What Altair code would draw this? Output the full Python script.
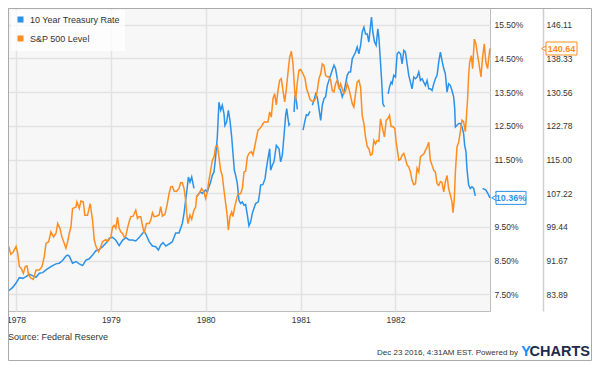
import altair as alt
import pandas as pd

FONT = "Liberation Sans"
BLUE = "#2b92ea"
ORANGE = "#ff8c1f"

series_names = ["10 Year Treasury Rate", "S&P 500 Level"]

# 10 Year Treasury Rate (%), decimal-year dates; None marks a gap in the line
rate_t = [
    1977.923, 1977.965, 1978.000, 1978.035, 1978.070, 1978.105, 1978.140, 1978.175, 1978.211, 1978.246,
    1978.281, 1978.316, 1978.351, 1978.386, 1978.421, 1978.456, 1978.491, 1978.526, 1978.544, 1978.561,
    1978.596, 1978.632, 1978.667, 1978.702, 1978.737, 1978.772, 1978.807, 1978.842, 1978.877, 1978.912,
    1978.947, 1978.982, 1979.018, 1979.053, 1979.088, 1979.123, 1979.158, 1979.193, 1979.228, 1979.263,
    1979.298, 1979.333, 1979.351, 1979.375, 1979.404, 1979.439, 1979.474, 1979.502, 1979.526, 1979.551,
    1979.579, 1979.614, 1979.649, 1979.684, 1979.719, 1979.754, 1979.772, 1979.789, 1979.807, 1979.818,
    1979.835, 1979.853, 1979.877, 1979.890,
    1979.902, 1979.930, 1979.947, 1979.965, 1979.982, 1980.000, 1980.018, 1980.035, 1980.053, 1980.070,
    1980.088, 1980.105, 1980.123, 1980.140, 1980.158, 1980.175, 1980.193, 1980.203, 1980.221, 1980.239,
    1980.256, 1980.274, 1980.288, 1980.302, 1980.316, 1980.333, 1980.351, 1980.368, 1980.386, 1980.404,
    1980.421, 1980.439, 1980.456, 1980.474, 1980.491, 1980.509, 1980.526, 1980.554, 1980.568, 1980.579,
    1980.603, 1980.625, 1980.639, 1980.656, 1980.674, 1980.684, 1980.702, 1980.719, 1980.744, 1980.772,
    1980.789, 1980.807, 1980.825, 1980.842, 1980.853, 1980.867, 1980.877, 1980.888, 1980.905,
    1980.930, 1980.940, 1980.954, 1980.965, 1980.990,
    1981.025, 1981.046, 1981.060, 1981.077, 1981.098, 1981.110,
    1981.123, 1981.140, 1981.158, 1981.175, 1981.193, 1981.211, 1981.228, 1981.246, 1981.263, 1981.281,
    1981.298, 1981.316, 1981.333, 1981.351, 1981.368, 1981.386, 1981.404, 1981.421, 1981.439, 1981.456,
    1981.474, 1981.491, 1981.509, 1981.526, 1981.544, 1981.561, 1981.579, 1981.596, 1981.614, 1981.632,
    1981.649, 1981.667, 1981.684, 1981.702, 1981.719, 1981.737, 1981.747, 1981.761, 1981.779, 1981.796,
    1981.814, 1981.825, 1981.842, 1981.853, 1981.867, 1981.884, 1981.900,
    1981.923, 1981.937, 1981.954, 1981.965, 1981.982, 1982.000, 1982.018, 1982.035, 1982.053, 1982.070,
    1982.088, 1982.105, 1982.123, 1982.140, 1982.158, 1982.175, 1982.193, 1982.211, 1982.228, 1982.246,
    1982.263, 1982.281, 1982.298, 1982.316, 1982.333, 1982.351, 1982.368, 1982.386, 1982.404, 1982.421,
    1982.439, 1982.456, 1982.474, 1982.491, 1982.509, 1982.526, 1982.544, 1982.561, 1982.579, 1982.596,
    1982.614, 1982.625, 1982.632, 1982.649, 1982.667, 1982.684, 1982.702, 1982.719, 1982.730, 1982.744,
    1982.754, 1982.772, 1982.789, 1982.807, 1982.825, 1982.842, 1982.880,
    1982.919, 1982.937, 1982.954, 1982.975, 1982.997,
]
rate_v = [
    7.60, 7.70, 7.83, 7.99, 7.97, 8.02, 8.09, 8.05, 8.00, 8.12,
    8.14, 8.22, 8.29, 8.35, 8.40, 8.42, 8.50, 8.63, 8.66, 8.63,
    8.42, 8.47, 8.40, 8.35, 8.51, 8.55, 8.66, 8.79, 8.83, 8.91,
    9.01, 9.16, 9.19, 9.10, 8.94, 9.10, 9.18, 9.11, 9.11, 9.08,
    9.18, 9.30, 9.37, 9.25, 9.06, 8.93, 8.91, 8.81, 8.96, 9.03,
    8.93, 8.99, 9.06, 9.32, 9.32, 9.60, 9.90, 10.29, 10.69, 10.98,
    10.83, 10.98, 10.64, None,
    10.39, 10.49, 10.54, 10.49, 10.54, 10.59, 10.54, 10.69, 10.83, 11.03,
    11.13, 11.57, 12.17, 13.20, 12.96, 13.11, 12.86, 12.51, 12.61, 12.96,
    12.66, 12.17, 11.67, 11.18, 11.03, 10.79, 10.29, 10.19, 10.24, 10.14,
    10.16, 9.85, 9.53, 9.65, 9.90, 10.05, 10.19, 10.24, 10.49, 10.74,
    10.76, 10.93, 11.23, 11.53, 11.82, 11.18, 11.33, 11.43, 11.92, 11.82,
    11.43, 11.63, 12.22, 12.81, 13.01, 12.71, 12.52, 12.57, None,
    12.91, 13.40, 13.26, 12.99, None,
    12.37, 12.66, 12.83, 12.81, 12.93, None,
    13.11, 13.26, 13.45, 13.35, 13.01, 12.66, 13.11, 13.31, 13.36, 13.70,
    13.85, 14.00, 14.15, 14.30, 14.20, 13.90, 13.65, 13.55, 13.36, 13.50,
    13.75, 14.00, 14.10, 14.10, 14.49, 14.59, 14.69, 14.84, 14.64, 14.89,
    15.28, 15.43, 15.23, 15.23, 14.99, 15.48, 15.73, 15.28, 14.99, 14.89,
    15.38, 15.13, 14.39, 13.90, 13.16, 13.06, None,
    13.45, 13.65, 13.80, 13.75, 14.00, 13.95, 14.64, 14.69, 14.64, 14.34,
    14.74, 14.69, 14.34, 14.00, 13.80, 13.60, 13.95, 13.90, 13.95, 14.10,
    13.85, 13.90, 13.80, 13.70, 13.85, 13.60, 13.60, 13.55, 13.75, 13.90,
    14.00, 14.39, 14.69, 14.44, 14.20, 14.05, 13.50, 13.75, 13.70, 13.55,
    13.36, 13.01, 12.47, 12.52, 12.57, 12.57, 12.47, 12.27, 11.92, 11.73,
    11.23, 10.74, 10.64, 10.69, 10.64, 10.42, None,
    10.64, 10.62, 10.59, 10.49, 10.36,
]

# S&P 500 Level, decimal-year dates
spx_t = [
    1977.923, 1977.944, 1977.972, 1978.000, 1978.018, 1978.035, 1978.053, 1978.077, 1978.098, 1978.116,
    1978.133, 1978.158, 1978.182, 1978.211, 1978.246, 1978.274, 1978.298, 1978.316, 1978.344, 1978.368,
    1978.396, 1978.421, 1978.439, 1978.463, 1978.484, 1978.509, 1978.526, 1978.544, 1978.561, 1978.579,
    1978.596, 1978.632, 1978.642, 1978.667, 1978.684, 1978.709, 1978.726, 1978.754, 1978.782, 1978.807,
    1978.825, 1978.842, 1978.870, 1978.888, 1978.912, 1978.947, 1978.965, 1979.000, 1979.018, 1979.035,
    1979.053, 1979.070, 1979.088, 1979.105, 1979.123, 1979.140, 1979.158, 1979.175, 1979.193, 1979.211,
    1979.235, 1979.263, 1979.281, 1979.298, 1979.316, 1979.333, 1979.351, 1979.375, 1979.404, 1979.421,
    1979.439, 1979.456, 1979.481, 1979.509, 1979.526, 1979.544, 1979.572, 1979.596, 1979.614, 1979.632,
    1979.649, 1979.667, 1979.691, 1979.719, 1979.737, 1979.754, 1979.772, 1979.789, 1979.800, 1979.814,
    1979.835, 1979.853, 1979.877, 1979.895, 1979.905, 1979.930, 1979.958, 1979.982, 1980.000, 1980.018,
    1980.035, 1980.053, 1980.070, 1980.088, 1980.105, 1980.123, 1980.140, 1980.158, 1980.175, 1980.193,
    1980.211, 1980.228, 1980.239, 1980.256, 1980.274, 1980.288, 1980.305, 1980.323, 1980.340, 1980.368,
    1980.386, 1980.404, 1980.421, 1980.439, 1980.456, 1980.481, 1980.498, 1980.516, 1980.533, 1980.551,
    1980.568, 1980.586, 1980.603, 1980.621, 1980.639, 1980.656, 1980.674, 1980.691, 1980.709, 1980.726,
    1980.744, 1980.761, 1980.779, 1980.796, 1980.814, 1980.832, 1980.849, 1980.867, 1980.884, 1980.902,
    1980.919, 1980.937, 1980.947, 1980.965, 1980.982, 1981.000, 1981.025, 1981.046, 1981.063, 1981.081,
    1981.098, 1981.116, 1981.140, 1981.158, 1981.175, 1981.193, 1981.211, 1981.228, 1981.246, 1981.263,
    1981.281, 1981.298, 1981.316, 1981.333, 1981.351, 1981.368, 1981.386, 1981.404, 1981.421, 1981.439,
    1981.456, 1981.474, 1981.491, 1981.509, 1981.526, 1981.544, 1981.561, 1981.579, 1981.596, 1981.614,
    1981.632, 1981.649, 1981.667, 1981.684, 1981.702, 1981.719, 1981.737, 1981.754, 1981.772, 1981.789,
    1981.807, 1981.825, 1981.842, 1981.853, 1981.867, 1981.884, 1981.902, 1981.919, 1981.937, 1981.954,
    1981.972, 1981.993, 1982.007, 1982.025, 1982.035, 1982.053, 1982.070, 1982.088, 1982.105, 1982.123,
    1982.140, 1982.158, 1982.175, 1982.193, 1982.211, 1982.228, 1982.246, 1982.263, 1982.281, 1982.298,
    1982.316, 1982.333, 1982.351, 1982.368, 1982.386, 1982.404, 1982.421, 1982.439, 1982.456, 1982.474,
    1982.491, 1982.509, 1982.526, 1982.544, 1982.561, 1982.579, 1982.596, 1982.607, 1982.621, 1982.632,
    1982.649, 1982.667, 1982.684, 1982.702, 1982.719, 1982.737, 1982.747, 1982.761, 1982.772, 1982.782,
    1982.800, 1982.814, 1982.832, 1982.849, 1982.867, 1982.884, 1982.902, 1982.919, 1982.937, 1982.954,
    1982.972, 1982.989, 1982.997,
]
spx_v = [
    94.9, 93.1, 93.7, 94.9, 93.3, 90.3, 89.9, 88.7, 90.3, 90.4,
    88.3, 87.6, 87.3, 89.5, 89.5, 90.3, 92.6, 95.6, 96.0, 98.3,
    97.1, 97.9, 100.2, 99.1, 97.1, 95.6, 94.5, 96.0, 97.9, 99.4,
    103.7, 104.0, 105.2, 103.7, 105.4, 105.2, 102.1, 102.1, 104.8, 101.0,
    96.4, 95.0, 93.7, 94.5, 96.0, 96.5, 96.0, 97.1, 99.4, 99.8,
    99.1, 101.7, 99.1, 98.3, 97.9, 97.1, 97.3, 99.1, 100.6, 101.8,
    101.9, 103.3, 101.4, 101.8, 101.8, 99.8, 98.0, 100.2, 100.2, 101.0,
    102.7, 101.8, 101.9, 102.2, 104.1, 101.9, 102.4, 104.8, 107.1, 108.7,
    108.8, 107.7, 107.6, 108.3, 109.6, 109.6, 108.3, 105.6, 102.6, 100.2,
    102.2, 101.2, 103.3, 104.0, 106.4, 107.1, 108.3, 107.5, 106.0, 107.5,
    110.2, 112.5, 114.8, 115.6, 117.9, 118.3, 115.6, 112.5, 111.3, 107.9,
    104.8, 101.8, 98.7, 101.8, 102.9, 101.8, 104.0, 105.6, 107.1, 107.1,
    108.3, 112.1, 112.3, 115.6, 116.4, 116.8, 116.0, 117.9, 119.8, 121.8,
    122.1, 122.6, 123.3, 123.7, 123.6, 123.7, 126.0, 124.8, 129.1, 130.2,
    127.6, 130.9, 133.3, 133.7, 130.9, 128.3, 131.3, 135.2, 138.6, 140.0,
    137.1, 130.9, 128.6, 132.9, 135.6, 135.8, 134.8, 133.7, 131.3, 130.2,
    128.9, 128.5, 128.5, 129.1, 130.9, 133.7, 134.8, 137.1, 136.7, 134.4,
    134.1, 134.1, 133.3, 130.9, 130.6, 132.5, 133.3, 131.3, 132.5, 131.3,
    130.2, 130.9, 132.5, 131.3, 129.7, 127.9, 127.1, 130.2, 132.9, 133.3,
    131.7, 125.2, 123.3, 120.2, 118.0, 117.5, 116.0, 116.2, 119.4, 118.6,
    119.4, 119.2, 124.4, 123.3, 121.8, 120.2, 124.1, 124.4, 125.2, 122.6,
    122.6, 122.2, 119.0, 116.4, 114.8, 115.0, 116.0, 116.4, 115.2, 113.7,
    113.3, 112.1, 110.2, 109.2, 109.4, 113.0, 112.1, 115.6, 116.0, 116.2,
    117.1, 117.9, 119.0, 114.8, 113.7, 112.5, 112.1, 109.4, 109.0, 109.9,
    109.7, 107.5, 109.8, 111.3, 108.3, 106.8, 105.2, 102.7, 106.0, 112.1,
    117.9, 119.0, 121.4, 124.1, 123.7, 121.4, 124.4, 129.1, 134.4, 137.4,
    139.0, 136.0, 142.8, 141.7, 139.0, 136.7, 134.1, 138.6, 141.7, 137.4,
    136.0, 139.4, 140.64,
]

pct_ticks = [7.5, 8.5, 9.5, 10.5, 11.5, 12.5, 13.5, 14.5, 15.5]
spx_ticks = [83.89, 91.67, 99.44, 107.22, 115.00, 122.78, 130.56, 138.33, 146.11]
year_ticks = [1978, 1979, 1980, 1981, 1982]
source_text = "Source: Federal Reserve"
stamp_text = "Dec 23 2016, 4:31AM EST.  Powered by"


def to_date(y):
    yr = int(y)
    start = pd.Timestamp(year=yr, month=1, day=1)
    ndays = (pd.Timestamp(year=yr + 1, month=1, day=1) - start).days
    return start + pd.Timedelta(days=(y - yr) * ndays)


rate_df = pd.DataFrame({"date": [to_date(t) for t in rate_t], "rate": rate_v})
rate_df["seg"] = rate_df["rate"].isna().cumsum()
rate_df = rate_df.dropna().reset_index(drop=True)
rate_df["series"] = series_names[0]

spx_df = pd.DataFrame({"date": [to_date(t) for t in spx_t], "spx": spx_v})
spx_df["series"] = series_names[1]

W, H = 482, 303

x_enc = alt.X(
    "date:T",
    scale=alt.Scale(domain=[alt.DateTime(year=1977, month=12, date=1),
                            alt.DateTime(year=1982, month=12, date=31)]),
    axis=alt.Axis(values=[alt.DateTime(year=y, month=1, date=1) for y in year_ticks],
                  format="%Y", grid=True, gridColor="#e2e2e2", gridWidth=1.5,
                  domain=False, ticks=False, labelPadding=4, labelFlush=False,
                  title=None),
)

y_pct = alt.Y(
    "rate:Q",
    scale=alt.Scale(domain=[7, 16], nice=False, zero=False),
    axis=alt.Axis(orient="right", values=pct_ticks,
                  labelExpr="format(datum.value, '.2f') + '%'",
                  grid=True, gridColor="#e2e2e2", gridWidth=1.5,
                  domain=False, ticks=False, labelPadding=4, labelFlush=False,
                  title=None),
)

y_spx = alt.Y(
    "spx:Q",
    scale=alt.Scale(domain=[80, 150], nice=False, zero=False),
    axis=alt.Axis(orient="right", offset=53, values=spx_ticks, format=".2f",
                  grid=False, domain=True, domainColor="#cfcfcf", domainWidth=1.5,
                  ticks=False, labelPadding=3, labelFlush=False, title=None),
)

color_scale = alt.Scale(domain=series_names, range=[BLUE, ORANGE])
legend = alt.Legend(
    orient="none", legendX=3, legendY=2, title=None, symbolType="square",
    symbolSize=9, symbolStrokeWidth=3, labelFontSize=9, labelFont=FONT,
    labelColor="#333333", fillColor="rgba(255,255,255,0.75)", padding=5,
    rowPadding=4, labelOffset=5,
)

rate_line = alt.Chart(rate_df).mark_line(strokeWidth=1.5).encode(
    x=x_enc, y=y_pct, detail="seg:N",
    color=alt.Color("series:N", scale=color_scale, legend=legend),
)
spx_line = alt.Chart(spx_df).mark_line(strokeWidth=1.5).encode(
    x=x_enc, y=y_spx,
    color=alt.Color("series:N", scale=color_scale, legend=legend),
)

# callouts with the latest values
last_rate = rate_df["rate"].iloc[-1]
last_spx = spx_df["spx"].iloc[-1]
rate_call = pd.DataFrame({"rate": [last_rate], "label": [f"{last_rate:.2f}%"]})
spx_call = pd.DataFrame({"spx": [last_spx], "label": [f"{last_spx:.2f}"]})

rate_tri = alt.Chart(rate_call).mark_point(
    shape="triangle-left", filled=True, fill="white", stroke=BLUE, strokeWidth=1,
    size=28, opacity=1).encode(x=alt.value(486), y=y_pct)
rate_box = alt.Chart(rate_call).mark_rect(
    fill="white", stroke=BLUE, strokeWidth=1, yOffset=-6.5, y2Offset=6.5).encode(
    x=alt.value(488), x2=alt.value(518), y=y_pct, y2="rate:Q")
rate_txt = alt.Chart(rate_call).mark_text(
    color=BLUE, fontWeight="bold", fontSize=9, font=FONT, align="center",
    baseline="middle").encode(x=alt.value(503), y=y_pct, text="label:N")

spx_tri = alt.Chart(spx_call).mark_point(
    shape="triangle-left", filled=True, fill="white", stroke=ORANGE, strokeWidth=1,
    size=28, opacity=1).encode(x=alt.value(536), y=y_spx)
spx_box = alt.Chart(spx_call).mark_rect(
    fill="white", stroke=ORANGE, strokeWidth=1, yOffset=-6.5, y2Offset=6.5).encode(
    x=alt.value(538), x2=alt.value(569), y=y_spx, y2="spx:Q")
spx_txt = alt.Chart(spx_call).mark_text(
    color=ORANGE, fontWeight="bold", fontSize=9, font=FONT, align="center",
    baseline="middle").encode(x=alt.value(553.5), y=y_spx, text="label:N")

rate_layer = alt.layer(rate_line, rate_tri, rate_box, rate_txt)
spx_layer = alt.layer(spx_line, spx_tri, spx_box, spx_txt)

# footer texts and frame
FOOT_Y = 344
src = alt.Chart(pd.DataFrame({"t": [source_text]})).mark_text(
    align="left", baseline="middle", fontSize=9, font=FONT, color="#333333").encode(
    x=alt.value(0), y=alt.value(329), text="t:N")
stamp = alt.Chart(pd.DataFrame({"t": [stamp_text]})).mark_text(
    align="right", baseline="middle", fontSize=8, font=FONT, color="#333333").encode(
    x=alt.value(510), y=alt.value(FOOT_Y + 1), text="t:N")
logo_y = alt.Chart(pd.DataFrame({"t": ["Y"]})).mark_text(
    align="right", baseline="middle", fontSize=14.5, fontWeight="bold", font=FONT,
    color="#1a8cff").encode(x=alt.value(523), y=alt.value(FOOT_Y), text="t:N")
logo_c = alt.Chart(pd.DataFrame({"t": ["CHARTS"]})).mark_text(
    align="right", baseline="middle", fontSize=14.5, fontWeight="bold", font=FONT,
    color="#1c2b4a").encode(x=alt.value(582), y=alt.value(FOOT_Y), text="t:N")
frame = alt.Chart(pd.DataFrame({"a": [0]})).mark_rect(
    filled=False, stroke="#aaaaaa", strokeWidth=1).encode(
    x=alt.value(0.5), x2=alt.value(583.5), y=alt.value(0.5), y2=alt.value(352.5))

chart = alt.layer(
    rate_layer, spx_layer, src, stamp, logo_y, logo_c, frame
).resolve_scale(
    y="independent"
).properties(
    width=W, height=H,
    autosize=alt.AutoSizeParams(type="none"),
    padding={"left": 0, "top": 0, "right": 102, "bottom": 50},
    background="white",
).configure_view(
    fill="#f7f7f7", stroke="#bdbdbd", strokeWidth=1,
).configure_axis(
    labelFont=FONT, labelFontSize=8.5, labelColor="#333333",
)

chart.save("out.html", embed_options={"renderer": "svg", "actions": False})
